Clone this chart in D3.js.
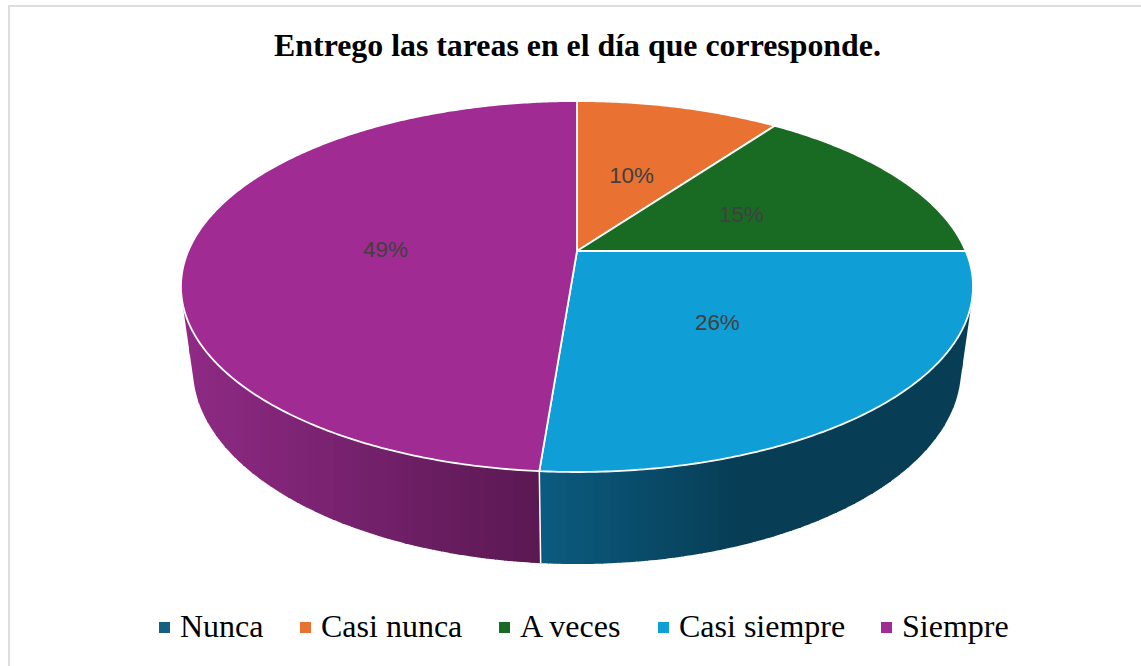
<!DOCTYPE html>
<html>
<head>
<meta charset="utf-8">
<script src="https://cdn.jsdelivr.net/npm/d3@7"></script>
<style>
  html, body { margin: 0; padding: 0; background: #fff; }
  svg { display: block; }
</style>
</head>
<body>
<div id="chart"></div>
<script>
var title = "Entrego las tareas en el día que corresponde.";
var categories = ["Nunca", "Casi nunca", "A veces", "Casi siempre", "Siempre"];
var values = [0, 10, 15, 26.25, 48.75];
var colors = ["#156082", "#E97132", "#196B24", "#0F9ED5", "#A02B93"];

var width = 1141, height = 666;

// tilted disc: screen position of a point on the unit circle, with perspective
var cx = 577, cy = 251, radius = 388.7, tiltY = 178.7, k = 0.1914;
var thickness = 83.8, thicknessW = 0.03;

function project(angle, r, lower) {
  var u = Math.sin(angle) * r, v = -Math.cos(angle) * r;
  var w = 1 - k * v + (lower ? thicknessW : 0);
  return [cx + radius * u / w, cy + (tiltY * v + (lower ? thickness : 0)) / w];
}

var svg = d3.select("#chart").append("svg")
  .attr("width", width)
  .attr("height", height);

var color = d3.scaleOrdinal().domain(categories).range(colors);
var slices = d3.pie().sort(null).value(function(d) { return d.value; })(
  categories.map(function(c, i) { return {name: c, value: values[i]}; })
);
var line = d3.line();

// chart frame, only the top and left edges fall inside the picture
svg.append("path")
  .attr("d", "M9,666V6H1141")
  .attr("fill", "none")
  .attr("stroke", "#dedede")
  .attr("stroke-width", 2);

svg.append("text")
  .attr("x", 577.5)
  .attr("y", 56)
  .attr("text-anchor", "middle")
  .attr("font-family", "'Liberation Serif'")
  .attr("font-weight", "bold")
  .attr("font-size", 31.85)
  .attr("fill", "#000")
  .text(title);

// side wall: hull of both rims for a slice, filled with vertical shaded bands
var shadeBlue = d3.scaleLinear().domain([540, 740]).range(["#0b5b80", "#073d55"]).clamp(true);
var shadePurple = d3.scaleLinear().domain([185, 540]).range(["#8f2a85", "#5a1852"]).clamp(true);
var wallStart = Math.PI / 2, wallEnd = Math.PI * 1.5, bandWidth = 9;
var defs = svg.append("defs");

slices.forEach(function(s, idx) {
  var a0 = Math.max(s.startAngle, wallStart), a1 = Math.min(s.endAngle, wallEnd);
  if (a1 <= a0) return;
  var shade = s.data.name == "Siempre" ? shadePurple : shadeBlue;
  var rim = [];
  d3.range(a0, a1, 0.01).concat([a1]).forEach(function(a) {
    rim.push(project(a, 1, false));
    rim.push(project(a, 1, true));
  });
  var hull = d3.polygonHull(rim);
  defs.append("clipPath").attr("id", "wall" + idx)
    .append("path").attr("d", line(hull) + "Z");

  var xr = d3.extent(hull, function(p) { return p[0]; });
  var g = svg.append("g").attr("clip-path", "url(#wall" + idx + ")");
  d3.range(Math.floor(xr[0]), xr[1], bandWidth).forEach(function(x) {
    g.append("rect")
      .attr("x", x)
      .attr("y", cy)
      .attr("width", bandWidth + 1)
      .attr("height", height - cy)
      .attr("fill", shade(x + bandWidth / 2));
  });
});

// white seam between the two visible wall pieces
var seam = slices[3].endAngle;
svg.append("path")
  .attr("d", line([project(seam, 1, false), project(seam, 1, true)]))
  .attr("stroke", "#fff")
  .attr("stroke-width", 1.5);

// top face
slices.forEach(function(s) {
  if (s.value == 0) return;
  var pts = [[cx, cy]];
  d3.range(s.startAngle, s.endAngle, 0.01).concat([s.endAngle]).forEach(function(a) {
    pts.push(project(a, 1, false));
  });
  svg.append("path")
    .attr("d", line(pts) + "Z")
    .attr("fill", color(s.data.name))
    .attr("stroke", "#fff")
    .attr("stroke-width", 1.8)
    .attr("stroke-linejoin", "round");
});

// percent labels, about halfway out along each slice
var total = d3.sum(values);
var pct = d3.format(".0%");
slices.forEach(function(s) {
  if (s.value == 0) return;
  var pos = project((s.startAngle + s.endAngle) / 2, 0.495, false);
  svg.append("text")
    .attr("x", pos[0])
    .attr("y", pos[1] + 9.5)
    .attr("text-anchor", "middle")
    .attr("font-family", "'Liberation Sans'")
    .attr("font-size", 22.4)
    .attr("fill", "#404040")
    .text(pct(s.value / total));
});

// legend
var legendX = [159, 300, 499, 658, 881];
categories.forEach(function(c, i) {
  svg.append("rect")
    .attr("x", legendX[i])
    .attr("y", 622)
    .attr("width", 11)
    .attr("height", 11)
    .attr("fill", color(c));
  svg.append("text")
    .attr("x", legendX[i] + 21)
    .attr("y", 637)
    .attr("font-family", "'Liberation Serif'")
    .attr("font-size", 32)
    .attr("fill", "#000")
    .text(c);
});
</script>
</body>
</html>
